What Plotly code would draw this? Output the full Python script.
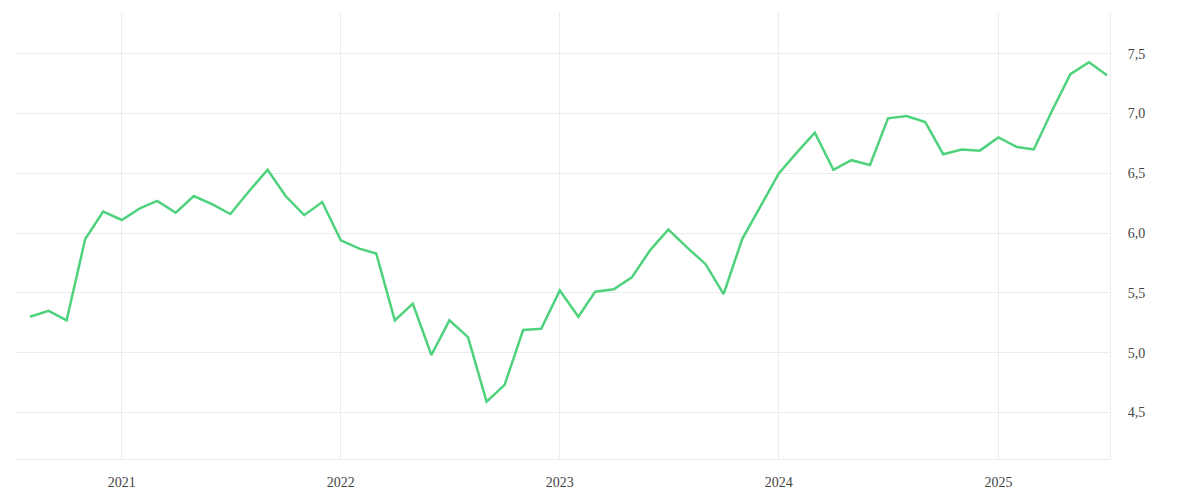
import pandas as pd
import plotly.graph_objects as go

# monthly series, Aug 2020 .. Jul 2025
months = pd.date_range("2020-08-01", "2025-07-01", freq="MS")
values = [
    5.30, 5.35, 5.27, 5.95, 6.18,
    6.11, 6.21, 6.27, 6.17, 6.31, 6.24, 6.16, 6.35, 6.53, 6.31, 6.15, 6.26,
    5.94, 5.87, 5.83, 5.27, 5.41, 4.98, 5.27, 5.13, 4.59, 4.73, 5.19, 5.20,
    5.52, 5.30, 5.51, 5.53, 5.63, 5.86, 6.03, 5.88, 5.74, 5.49, 5.95, 6.22,
    6.50, 6.68, 6.84, 6.53, 6.61, 6.57, 6.96, 6.98, 6.93, 6.66, 6.70, 6.69,
    6.80, 6.72, 6.70, 7.03, 7.33, 7.43, 7.32,
]
year_ticks = ["2021-01-01", "2022-01-01", "2023-01-01", "2024-01-01", "2025-01-01"]
year_labels = ["2021", "2022", "2023", "2024", "2025"]

grid = "#ececec"
font = dict(family="Liberation Serif, DejaVu Serif, serif", size=14, color="#444")

fig = go.Figure(
    go.Scatter(
        x=months, y=values, mode="lines",
        line=dict(color="#4ED27B", width=2.5),
        hoverinfo="x+y",
    )
)

# page has an 8px body margin, so margins are trimmed to land the plot where the original sits
fig.update_layout(
    width=1200, height=500,
    paper_bgcolor="white", plot_bgcolor="white",
    showlegend=False,
    separators=",.",
    font=font,
    margin=dict(l=7, r=98, t=4, b=49),
    xaxis=dict(
        range=["2020-07-07", "2025-07-06"],
        tickvals=year_ticks, ticktext=year_labels,
        showgrid=True, gridcolor=grid, gridwidth=1,
        showline=True, linecolor=grid, linewidth=1,
        zeroline=False, ticks="", ticklabelstandoff=10,
    ),
    yaxis=dict(
        side="right",
        range=[4.11, 7.85],
        tickvals=[4.5, 5.0, 5.5, 6.0, 6.5, 7.0, 7.5],
        tickformat=".1f",
        showgrid=True, gridcolor=grid, gridwidth=1,
        showline=True, linecolor=grid, linewidth=1,
        zeroline=False, ticks="", ticklabelstandoff=14,
    ),
)

fig.write_html("out.html")
